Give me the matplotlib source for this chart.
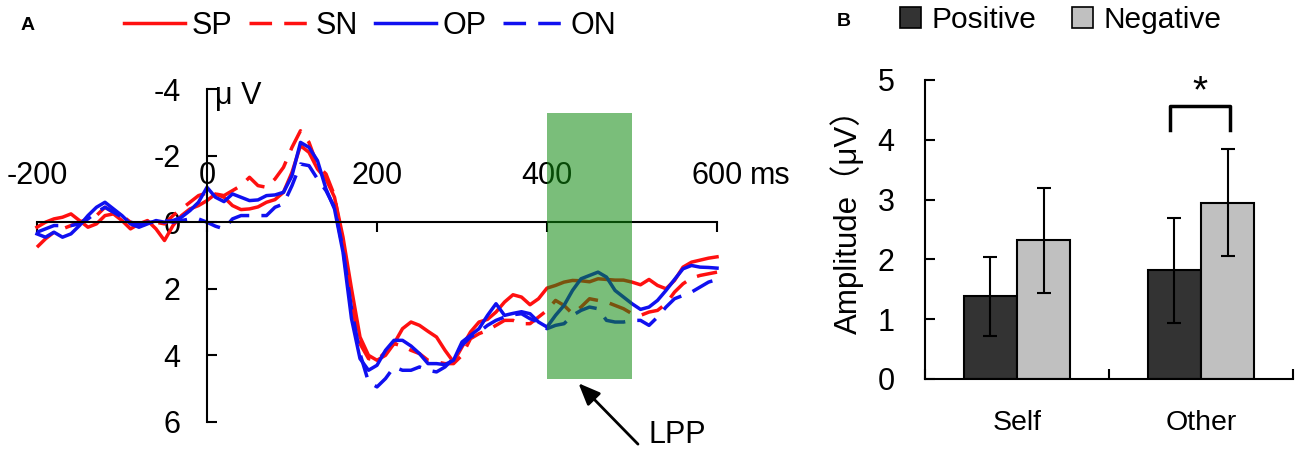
import matplotlib
matplotlib.use('Agg')
import matplotlib.pyplot as plt
from matplotlib.patches import Patch, Rectangle
import numpy as np

plt.rcParams['font.family'] = ['Liberation Sans', 'DejaVu Sans']
plt.rcParams['axes.unicode_minus'] = False

# ---- panel A: grand-average ERP waveforms (uV), 10 ms steps from -200 to 600 ms
times = np.arange(-200, 601, 10)

sp = [0.15, 0.0, -0.1, -0.15, -0.25, -0.05, 0.15, 0.05, -0.2, -0.25,
      -0.05, 0.2, 0.05, -0.05, 0.2, 0.55, 0.1, -0.2, -0.4, -0.5,
      -0.65, -0.85, -0.75, -0.5, -0.38, -0.4, -0.46, -0.6, -0.68, -0.9,
      -1.5, -2.3, -2.1, -1.6, -1.3, -0.75, 0.45, 2.0, 3.45, 4.0,
      4.15, 4.0, 3.65, 3.2, 3.0, 3.1, 3.28, 3.45, 3.85, 4.2,
      3.75, 3.3, 3.0, 2.92, 2.7, 2.4, 2.18, 2.25, 2.48, 2.3,
      1.98, 1.9, 1.8, 1.75, 1.76, 1.79, 1.7, 1.72, 1.74, 1.74,
      1.8, 1.88, 1.72, 1.9, 2.0, 1.75, 1.35, 1.2, 1.14, 1.08,
      1.04]
sn = [0.75, 0.5, 0.3, 0.2, 0.1, 0.0, -0.1, -0.2, -0.45, -0.3,
      -0.2, 0.0, 0.1, 0.05, 0.0, 0.05, -0.2, -0.4, -0.6, -0.8,
      -0.88, -0.85, -0.8, -0.95, -1.1, -1.35, -1.1, -1.05, -1.3, -1.65,
      -2.25, -2.75, -2.4, -1.7, -1.45, -0.8, 0.7, 2.45, 3.65, 4.1,
      4.15, 3.9, 3.65, 3.72, 3.85, 3.95, 4.15, 4.2, 4.25, 4.25,
      4.0, 3.5, 3.35, 3.25, 3.1, 2.95, 2.95, 3.05, 3.05, 2.85,
      2.65, 2.35, 2.5, 2.75, 2.55, 2.3, 2.35, 2.4, 2.5, 2.6,
      2.75, 2.8, 2.7, 2.65, 2.45, 2.1, 1.85, 1.68, 1.6, 1.55,
      1.5]
op = [0.35, 0.45, 0.3, 0.45, 0.35, 0.1, -0.2, -0.45, -0.6, -0.4,
      -0.2, 0.05, 0.15, 0.05, -0.05, 0.0, -0.05, -0.15, -0.35, -0.6,
      -1.05, -0.75, -0.62, -0.85, -0.75, -0.65, -0.67, -0.8, -0.82, -0.9,
      -1.4, -2.4, -2.25, -1.85, -1.0, -0.4, 0.9, 2.9, 4.1, 4.45,
      4.3, 3.85, 3.55, 3.55, 3.72, 3.95, 4.25, 4.25, 4.28, 4.15,
      3.6, 3.4, 3.2, 2.8, 2.45, 2.8, 2.74, 2.69, 2.75, 3.0,
      3.15, 2.8, 2.5, 2.05, 1.7, 1.6, 1.5, 1.65, 2.05, 2.25,
      2.45, 2.62, 2.55, 2.35, 2.05, 1.72, 1.4, 1.3, 1.35, 1.36,
      1.38]
on = [0.3, 0.2, 0.1, 0.1, 0.1, 0.05, -0.1, -0.3, -0.45, -0.3,
      -0.15, 0.0, 0.05, 0.0, 0.0, -0.05, 0.0, -0.05, -0.1, -0.1,
      0.0, 0.12, 0.2, -0.1, -0.2, -0.2, -0.2, -0.2, -0.45, -0.55,
      -1.1, -1.75, -1.7, -1.3, -0.95, -0.45, 0.8, 2.6, 3.95, 4.8,
      4.95, 4.7, 4.35, 4.45, 4.45, 4.35, 4.45, 4.5, 4.35, 4.1,
      3.7, 3.45, 3.3, 3.1, 2.95, 2.85, 2.78, 2.75, 2.9, 3.0,
      3.2, 3.1, 3.05, 2.8, 2.65, 2.55, 2.6, 2.95, 3.0, 3.0,
      2.95, 2.95, 3.1, 2.85, 2.55, 2.3, 2.2, 2.1, 1.95, 1.8,
      1.72]

series_labels = ['SP', 'SN', 'OP', 'ON']
lpp_window = (400, 500)
x_ticks = [-200, 0, 200, 400, 600]
y_ticks = [-4, -2, 0, 2, 4, 6]

# ---- panel B: mean LPP amplitude (uV)
conditions = ['Self', 'Other']
positive = [1.38, 1.82]
negative = [2.32, 2.95]
positive_err = [0.66, 0.88]
negative_err = [0.88, 0.89]

RED = '#ff1010'
BLUE = '#1010f0'
styles = [(RED, '-'), (RED, '--'), (BLUE, '-'), (BLUE, '--')]

fig = plt.figure(figsize=(13, 4.53), dpi=100)

# ---------------- panel A
ax = fig.add_axes([0.0219, 0.0541, 0.5362, 0.7638])
handles = []
for vals, (c, ls), lab in zip([sp, sn, op, on], styles, series_labels):
    line, = ax.plot(times, vals, color=c, lw=2.5, linestyle=ls, label=lab)
    if ls == '--':
        line.set_dashes((6.5, 3.5))
    handles.append(line)

ax.add_patch(Rectangle((lpp_window[0], -3.27), lpp_window[1] - lpp_window[0], 7.97,
                       facecolor='#0d890d', alpha=0.55, edgecolor='none', zorder=5))

ax.set_xlim(-210, 610)
ax.set_ylim(6.2, -4.2)
for s in ['top', 'right']:
    ax.spines[s].set_visible(False)
ax.spines['left'].set_position(('data', 0))
ax.spines['bottom'].set_position(('data', 0))
ax.spines['left'].set_bounds(-4, 6)
ax.spines['bottom'].set_bounds(-200, 600)
for s in ['left', 'bottom']:
    ax.spines[s].set_linewidth(1.5)
ax.set_xticks(x_ticks)
ax.set_xticklabels([])
ax.set_yticks(y_ticks)
ax.tick_params(axis='x', direction='out', length=7, width=1.5)
ax.tick_params(axis='y', direction='in', length=7, width=1.5, labelsize=22, pad=19)
for t in x_ticks:
    ax.text(t, -1.4, str(t), ha='center', va='center', fontsize=22)
ax.text(639, -1.4, 'ms', ha='left', va='center', fontsize=22)
ax.text(10, -3.8, 'μ V', ha='left', va='center', fontsize=22)

ax.annotate('', xy=(437, 4.84), xytext=(507, 6.67), annotation_clip=False,
            arrowprops=dict(arrowstyle='-|>,head_length=0.6,head_width=0.25',
                            color='black', lw=2, mutation_scale=22,
                            shrinkA=0, shrinkB=0))
ax.text(553, 6.4, 'LPP', ha='center', va='center', fontsize=22, clip_on=False)

fig.legend(handles=handles, loc='upper left', bbox_to_anchor=(124 / 1300, 0.976),
           ncol=4, frameon=False, fontsize=22, handlelength=2.0,
           handletextpad=0.2, columnspacing=0.55, borderaxespad=0, borderpad=0)
fig.text(28 / 1300, 1 - 25 / 453, 'A', fontsize=14, fontweight='bold',
         ha='center', va='center')

# ---------------- panel B
bx = fig.add_axes([0.7115, 0.1634, 0.2831, 0.660])
xc = np.arange(len(conditions)) + 0.5
w = 0.29
bx.bar(xc - w / 2, positive, w, color='#333333', edgecolor='black', lw=1.5,
       yerr=positive_err, capsize=5, error_kw=dict(lw=1.5, capthick=1.5))
bx.bar(xc + w / 2, negative, w, color='#c0c0c0', edgecolor='black', lw=1.5,
       yerr=negative_err, capsize=5, error_kw=dict(lw=1.5, capthick=1.5))
bx.set_xlim(0, 2)
bx.set_ylim(0, 5)
for s in ['top', 'right']:
    bx.spines[s].set_visible(False)
for s in ['left', 'bottom']:
    bx.spines[s].set_linewidth(1.5)
bx.set_xticks([0, 1, 2])
bx.set_xticklabels([])
bx.set_xticks(xc, minor=True)
bx.set_xticklabels(conditions, minor=True)
bx.tick_params(axis='x', which='major', direction='in', length=7, width=1.5)
bx.tick_params(axis='x', which='minor', length=0, labelsize=20.5, pad=22)
bx.tick_params(axis='y', direction='in', length=7, width=1.5, labelsize=22, pad=22)
bx.set_yticks([0, 1, 2, 3, 4, 5])

# significance bracket between Other positive / negative
bx.plot([1.33, 1.33, 1.66, 1.66], [4.17, 4.57, 4.57, 4.17], color='black', lw=2.5)
bx.text(1.495, 4.8, '*', ha='center', va='center', fontsize=28, clip_on=False)

fig.text(847 / 1300, 1 - 214 / 453, 'Amplitude（μV）', rotation=90,
         ha='center', va='center', fontsize=22.5,
         family=['Liberation Sans', 'Noto Sans CJK SC', 'DejaVu Sans'])

fig.legend(handles=[Patch(facecolor='#333333', edgecolor='black', lw=1.2),
                    Patch(facecolor='#c0c0c0', edgecolor='black', lw=1.2)],
           labels=['Positive', 'Negative'], loc='upper left',
           bbox_to_anchor=(900 / 1300, 0.986), ncol=2, frameon=False, fontsize=21.5,
           handlelength=0.7, handleheight=0.7, handletextpad=0.35,
           columnspacing=1.2, borderaxespad=0, borderpad=0)
fig.text(844 / 1300, 1 - 22 / 453, 'B', fontsize=14, fontweight='bold',
         ha='center', va='center')

fig.savefig('out.png', dpi=100)
